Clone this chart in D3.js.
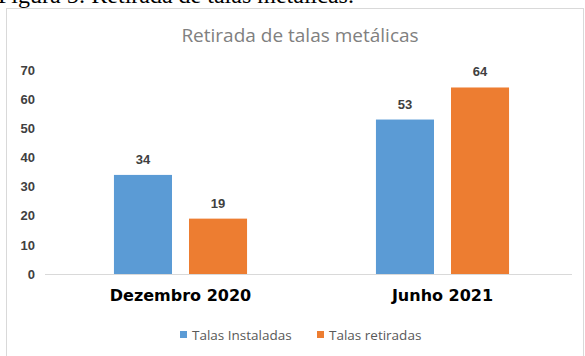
<!DOCTYPE html>
<html><head><meta charset="utf-8">
<script src="https://cdn.jsdelivr.net/npm/d3@7"></script>
<style>body{margin:0;background:#fff}svg{display:block}</style>
</head><body>
<svg id="c" width="585" height="356"></svg>
<script>
const categories = ["Dezembro 2020", "Junho 2021"];
const seriesNames = ["Talas Instaladas", "Talas retiradas"];
const instaladas = [34, 53];
const retiradas = [19, 64];
const yTicks = [0, 10, 20, 30, 40, 50, 60, 70];
const colors = ["#5b9bd5", "#ed7d31"];

const svg = d3.select("#c");
// caption (cut off at top, as in the source)
svg.append("text").attr("x", -2).attr("y", 3)
  .attr("font-family", "Liberation Serif").attr("font-size", 24).attr("fill", "#000")
  .text("Figura 5: Retirada de talas metálicas.");
// chart frame
svg.append("rect").attr("x", 6.5).attr("y", 8.5).attr("width", 577).attr("height", 360)
  .attr("fill", "#fff").attr("stroke", "#d9d9d9");

svg.append("text").attr("x", 300).attr("y", 42).attr("text-anchor", "middle")
  .attr("font-family", "Open Sans").attr("font-size", 19).attr("fill", "#808080")
  .text("Retirada de talas metálicas");

const y = d3.scaleLinear().domain([0, 70]).range([274, 70]);
const x0 = d3.scaleBand().domain(categories).range([49.5, 573.5]).paddingInner(0.492).paddingOuter(0.246);
const x1 = d3.scaleBand().domain(seriesNames).range([0, x0.bandwidth()]).paddingInner(0.2267).paddingOuter(0);

const data = categories.map((c, i) => ({cat: c, vals: [instaladas[i], retiradas[i]]}));

// y axis labels
const yAxis = svg.append("g").attr("transform", "translate(39,0)")
  .call(d3.axisLeft(y).tickValues(yTicks).tickSize(0).tickPadding(4));
yAxis.select(".domain").remove();
yAxis.selectAll("text").attr("font-family", "Liberation Sans").attr("font-weight", "bold")
  .attr("font-size", 13).attr("fill", "#404040");

// baseline
svg.append("line").attr("x1", 45).attr("x2", 572).attr("y1", y(0) + 0.5).attr("y2", y(0) + 0.5)
  .attr("stroke", "#d9d9d9");

const g = svg.selectAll("g.cat").data(data).enter().append("g")
  .attr("transform", d => `translate(${x0(d.cat)},0)`);
g.selectAll("rect").data(d => d.vals.map((v, k) => ({v, k}))).enter().append("rect")
  .attr("x", d => x1(seriesNames[d.k])).attr("width", x1.bandwidth())
  .attr("y", d => y(d.v)).attr("height", d => y(0) - y(d.v))
  .attr("fill", d => colors[d.k]);
g.selectAll("text.lbl").data(d => d.vals.map((v, k) => ({v, k}))).enter().append("text")
  .attr("class", "lbl")
  .attr("x", d => x1(seriesNames[d.k]) + x1.bandwidth() / 2).attr("y", d => y(d.v) - 11)
  .attr("text-anchor", "middle").attr("font-family", "Liberation Sans").attr("font-weight", "bold")
  .attr("font-size", 13).attr("fill", "#404040").text(d => d.v);

// category labels
const xAxis = svg.append("g").attr("transform", `translate(0,${y(0)})`)
  .call(d3.axisBottom(x0).tickSize(0).tickPadding(16));
xAxis.select(".domain").remove();
xAxis.selectAll("text").attr("font-family", "DejaVu Sans").attr("font-weight", "bold")
  .attr("font-size", 16).attr("fill", "#000");

// legend
const leg = svg.append("g");
const legX = [180, 317];
seriesNames.forEach((s, i) => {
  leg.append("rect").attr("x", legX[i]).attr("y", 331).attr("width", 7).attr("height", 7).attr("fill", colors[i]);
  leg.append("text").attr("x", legX[i] + 12).attr("y", 339.5)
    .attr("font-family", "Open Sans").attr("font-size", 13.5).attr("fill", "#595959").text(s);
});
</script>
</body></html>
